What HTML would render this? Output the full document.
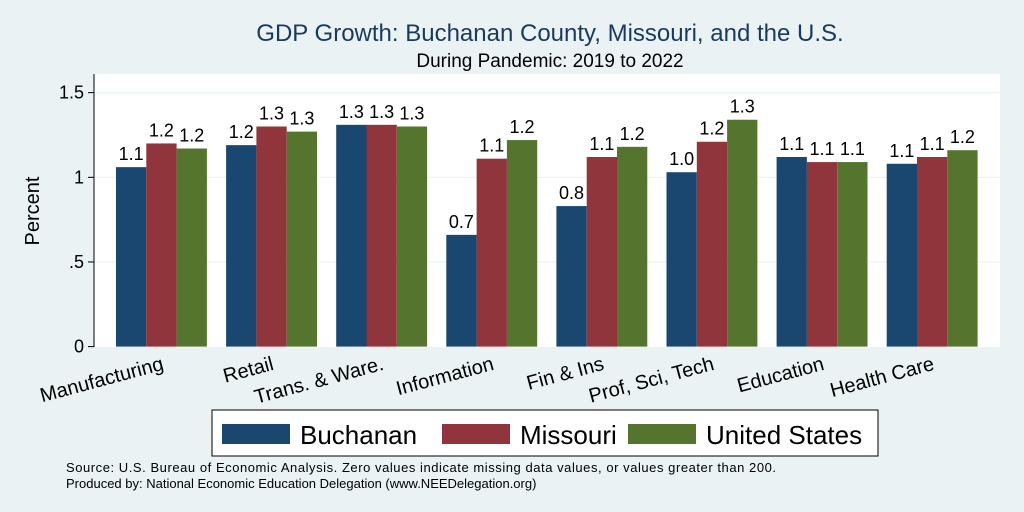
<!DOCTYPE html>
<html><head><meta charset="utf-8"><style>
body{margin:0;background:#eaf2f3;}
svg{display:block;font-family:"Liberation Sans",sans-serif;}
</style></head><body>
<svg width="1024" height="512">
<rect x="0" y="0" width="1024" height="512" fill="#eaf2f3"/>
<text x="550" y="41" text-anchor="middle" font-size="24" fill="#1a3a5c">GDP Growth: Buchanan County, Missouri, and the U.S.</text>
<text x="550" y="67" text-anchor="middle" font-size="19" fill="#000">During Pandemic: 2019 to 2022</text>
<rect x="94" y="74" width="906" height="273" fill="#fff"/>
<g id="grid"></g>
<line x1="94" y1="74" x2="94" y2="347" stroke="#000" stroke-width="1"/>
<text x="39" y="211" transform="rotate(-90 39 211)" text-anchor="middle" font-size="20">Percent</text>
<g id="bars"></g>
<rect x="212" y="410" width="666" height="46" fill="#fff" stroke="#000" stroke-width="1"/>
<g><rect x="222" y="424" width="68" height="20" fill="#1a476f"/><text x="300" y="444" font-size="26">Buchanan</text></g>
<g><rect x="442" y="424" width="68" height="20" fill="#90353b"/><text x="520" y="444" font-size="26">Missouri</text></g>
<g><rect x="628" y="424" width="68" height="20" fill="#55752f"/><text x="706" y="444" font-size="26">United States</text></g>
<text x="66" y="472" font-size="13" textLength="710">Source: U.S. Bureau of Economic Analysis. Zero values indicate missing data values, or values greater than 200.</text>
<text x="66" y="488" font-size="13">Produced by: National Economic Education Delegation (www.NEEDelegation.org)</text>
</svg>
<script>
const categories=["Manufacturing","Retail","Trans. & Ware.","Information","Fin & Ins","Prof, Sci, Tech","Education","Health Care"];
const buchanan=[1.06,1.19,1.31,0.66,0.83,1.03,1.12,1.08];
const missouri=[1.20,1.30,1.31,1.11,1.12,1.21,1.09,1.12];
const unitedStates=[1.17,1.27,1.30,1.22,1.18,1.34,1.09,1.16];
const yTicks=[0,0.5,1,1.5];
const yTickLabels=["0",".5","1","1.5"];
const colors=["#1a476f","#90353b","#55752f"];
const NS="http://www.w3.org/2000/svg";
const y0=346.6,unit=169.3;
function y(v){return y0-v*unit;}
function gx(i){return 116+i*110.1;}
const bw=30.3;
const grid=document.getElementById('grid');
yTicks.forEach((t,i)=>{
  const l=document.createElementNS(NS,'line');
  l.setAttribute('x1',88);l.setAttribute('x2',1000);l.setAttribute('y1',y(t));l.setAttribute('y2',y(t));
  l.setAttribute('stroke',i==0?'none':'#eaf2f3');l.setAttribute('stroke-width',1.2);
  
  
  grid.appendChild(l);
  const tk=document.createElementNS(NS,'line');
  tk.setAttribute('x1',88);tk.setAttribute('x2',94);tk.setAttribute('y1',y(t));tk.setAttribute('y2',y(t));tk.setAttribute('stroke','#000');
  
  
  grid.appendChild(tk);
  const tx=document.createElementNS(NS,'text');
  tx.setAttribute('x',84);tx.setAttribute('y',y(t)+6);tx.setAttribute('text-anchor','end');tx.setAttribute('font-size','18');
  tx.textContent=yTickLabels[i];
  
  
  grid.appendChild(tx);
});
const bars=document.getElementById('bars');
const series=[buchanan,missouri,unitedStates];
categories.forEach((c,i)=>{
  series.forEach((s,j)=>{
    const x=gx(i)+j*bw;
    const r=document.createElementNS(NS,'rect');
    r.setAttribute('x',x);r.setAttribute('y',y(s[i]));r.setAttribute('width',bw);r.setAttribute('height',y0-y(s[i]));
    r.setAttribute('fill',colors[j]);
    
    
    bars.appendChild(r);
    const t=document.createElementNS(NS,'text');
    t.setAttribute('x',x+bw/2);t.setAttribute('y',y(s[i])-7);t.setAttribute('text-anchor','middle');t.setAttribute('font-size','18');
    t.textContent=(Math.round(s[i]*10)/10).toFixed(1);
    
    
    bars.appendChild(t);
  });
  const cx=gx(i)+bw*1.5-1, cy=354;
  const t=document.createElementNS(NS,'text');
  t.setAttribute('x',cx);t.setAttribute('y',cy+16);t.setAttribute('text-anchor','end');t.setAttribute('font-size','20');
  t.setAttribute('transform','rotate(-15 '+cx+' '+cy+')');
  t.textContent=c;
  
  
  bars.appendChild(t);
});
</script>
</body></html>
